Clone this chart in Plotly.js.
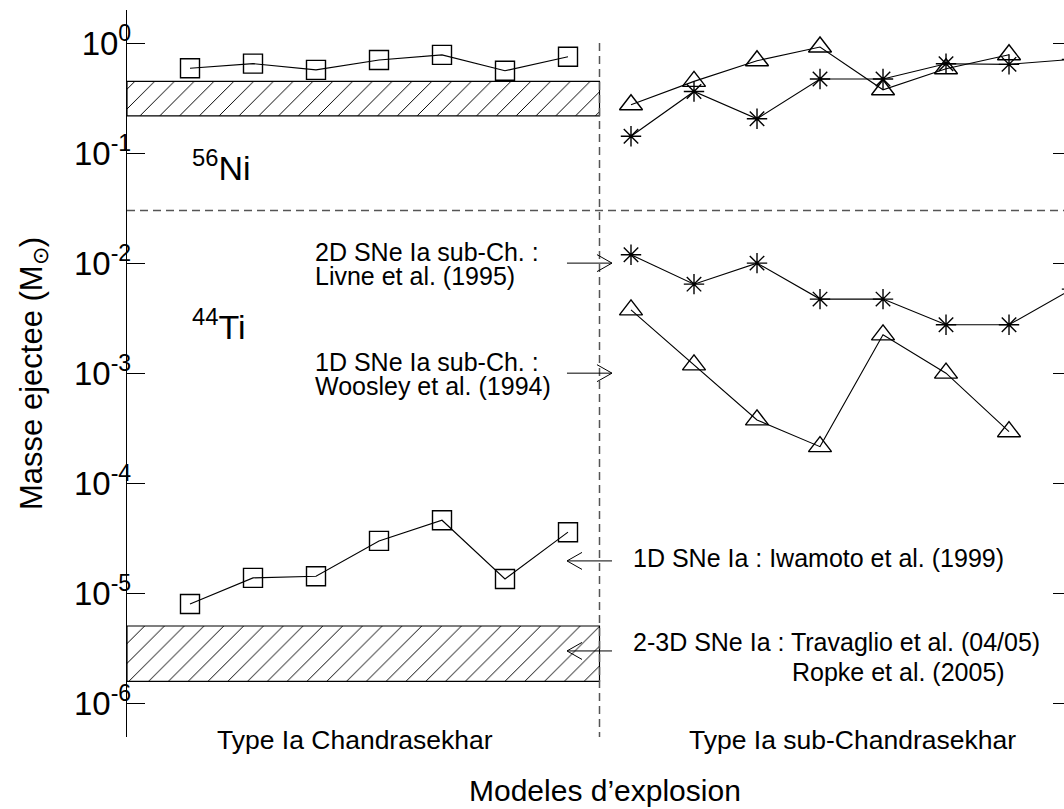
<!DOCTYPE html>
<html>
<head>
<meta charset="utf-8">
<script src="https://cdn.plot.ly/plotly-3.0.1.min.js"></script>
<style>html,body{margin:0;padding:0;overflow:hidden;background:#fff}</style>
</head>
<body>
<div id="chart"></div>
<script>
// ---- data ----
const chandraModels = [0, 1, 2, 3, 4, 5, 6];
const subChModels = [7, 8, 9, 10, 11, 12, 13];
const subChModelsLivne = [7, 8, 9, 10, 11, 12, 13, 14];

// 56Ni ejected mass (Msun)
const ni56Iwamoto = [0.59, 0.65, 0.57, 0.70, 0.78, 0.56, 0.75];
const ni56Woosley = [0.275, 0.448, 0.69, 0.92, 0.376, 0.584, 0.783];
const ni56Livne = [0.142, 0.363, 0.205, 0.471, 0.471, 0.648, 0.64, 0.71];

// 44Ti ejected mass (Msun)
const ti44Iwamoto = [8.0e-6, 1.38e-5, 1.43e-5, 2.99e-5, 4.61e-5, 1.35e-5, 3.59e-5];
const ti44Woosley = [0.00376, 0.00119, 0.000376, 0.000215, 0.00223, 0.00100, 0.000294];
const ti44Livne = [0.0119, 0.00644, 0.0100, 0.00471, 0.00471, 0.00275, 0.00275, 0.0058];

// 2-3D models (Travaglio 04/05, Ropke 2005): ranges
const ni56MultiD = [0.218, 0.448];
const ti44MultiD = [1.58e-6, 5.04e-6];

const separatorMass = 0.03;      // horizontal dashed separator
const groupBoundary = 6.5;       // Chandrasekhar | sub-Chandrasekhar
const tickVals = [1e-6, 1e-5, 1e-4, 1e-3, 1e-2, 1e-1, 1];
const tickText = tickVals.map(v => '10<sup>' + Math.round(Math.log10(v)) + '</sup>');

// ---- drawing ----
const FONT = 'Liberation Sans, Arial, Helvetica, sans-serif';
const xLeft = -1;
const yRange = [-6.306, 0.30];
const yPaper = l => (l - yRange[0]) / (yRange[1] - yRange[0]);

function band(range) {
  return {
    x: [xLeft, groupBoundary, groupBoundary, xLeft, xLeft],
    y: [range[0], range[0], range[1], range[1], range[0]],
    mode: 'lines', fill: 'toself', fillcolor: 'white',
    fillpattern: {shape: '/', fgcolor: 'black', bgcolor: 'white', size: 14, solidity: 0.07},
    line: {color: 'black', width: 1.2}, hoverinfo: 'skip', showlegend: false
  };
}
function series(x, y, symbol, size) {
  return {
    x: x, y: y, mode: 'lines+markers',
    line: {color: 'black', width: 1.1},
    marker: {symbol: symbol, size: size, color: 'black', line: {color: 'black', width: 1.4}},
    showlegend: false
  };
}

const traces = [
  band(ni56MultiD),
  band(ti44MultiD),
  {x: [xLeft, 20], y: [separatorMass, separatorMass], mode: 'lines',
   line: {color: '#555', width: 1.5, dash: '8px,5px'}, showlegend: false, hoverinfo: 'skip'},
  {x: [groupBoundary, groupBoundary], y: [tickVals[tickVals.length - 1], 1e-8], mode: 'lines',
   line: {color: '#555', width: 1.5, dash: '8px,5px'}, showlegend: false, hoverinfo: 'skip'},
  series(chandraModels, ni56Iwamoto, 'square-open', 19),
  series(chandraModels, ti44Iwamoto, 'square-open', 19),
  series(subChModels, ni56Woosley, 'triangle-up-open', 20),
  series(subChModels, ti44Woosley, 'triangle-up-open', 20),
  series(subChModelsLivne, ni56Livne, 'asterisk-open', 17),
  series(subChModelsLivne, ti44Livne, 'asterisk-open', 17)
];

function txt(x, y, text, opts) {
  return Object.assign({x: x, y: y, xref: 'x', yref: 'y', text: text, showarrow: false,
    xanchor: 'left', yanchor: 'middle', font: {family: FONT, size: 25, color: 'black'}}, opts || {});
}
// open-chevron arrow, tip at (xIdx, log10 y); dir = +1 points right, -1 points left
function arrowShape(xIdx, logY, dir) {
  const L = 45, hx = 15, hy = 8.5;
  return {
    type: 'path', xref: 'x', yref: 'paper', xsizemode: 'pixel', ysizemode: 'pixel',
    xanchor: xIdx, yanchor: yPaper(logY),
    path: 'M' + (-dir * L) + ',0 L0,0 M' + (-dir * hx) + ',' + (-hy) + ' L0,0 L' + (-dir * hx) + ',' + hy,
    line: {color: 'black', width: 1}
  };
}

const annotations = [
  txt(0, -1.115, '<sup>56</sup>Ni', {font: {family: FONT, size: 34, color: 'black'}}),
  txt(0, -2.561, '<sup>44</sup>Ti', {font: {family: FONT, size: 34, color: 'black'}}),
  txt(1.952, -1.897, '2D SNe Ia sub-Ch. :'),
  txt(1.952, -2.115, 'Livne et al. (1995)'),
  txt(1.952, -2.897, '1D SNe Ia sub-Ch. :'),
  txt(1.952, -3.115, 'Woosley et al. (1994)'),
  txt(7.0, -4.679, '1D SNe Ia : Iwamoto et al. (1999)'),
  txt(7.0, -5.443, '2-3D SNe Ia : Travaglio et al. (04/05)'),
  txt(9.524, -5.716, 'Ropke et al. (2005)'),
  {x: 0.2415, y: -0.004, xref: 'paper', yref: 'paper', text: 'Type Ia Chandrasekhar', showarrow: false,
   xanchor: 'center', yanchor: 'middle', font: {family: FONT, size: 26.5, color: 'black'}},
  {x: 0.769, y: -0.004, xref: 'paper', yref: 'paper', text: 'Type Ia sub-Chandrasekhar', showarrow: false,
   xanchor: 'center', yanchor: 'middle', font: {family: FONT, size: 26.5, color: 'black'}},
  {x: 0.5064, y: -0.073, xref: 'paper', yref: 'paper', text: 'Modeles d\u2019explosion', showarrow: false,
   xanchor: 'center', yanchor: 'middle', font: {family: FONT, size: 30, color: 'black'}}
];

const shapes = [
  arrowShape(6.698, -2, 1),
  arrowShape(6.698, -3, 1),
  arrowShape(5.984, -4.706, -1),
  arrowShape(5.984, -5.524, -1)
];

const layout = {
  width: 1072, height: 809,
  margin: {l: 127, r: 1, t: 10, b: 72},
  paper_bgcolor: 'white', plot_bgcolor: 'white',
  font: {family: FONT, color: 'black'},
  showlegend: false,
  xaxis: {range: [xLeft, 13.984], visible: false, showgrid: false, zeroline: false},
  yaxis: {
    type: 'log', range: yRange,
    tickvals: tickVals, ticktext: tickText,
    ticks: 'inside', ticklen: 18, tickwidth: 1, tickcolor: 'black',
    showline: true, linecolor: 'black', linewidth: 1.2, mirror: 'ticks',
    showgrid: false, zeroline: false, ticklabelstandoff: -12,
    tickfont: {family: FONT, size: 33, color: 'black'},
    title: {text: 'Masse ejectee (M<sub>\u2299</sub>)', font: {family: FONT, size: 31, color: 'black'}, standoff: 22}
  },
  annotations: annotations,
  shapes: shapes
};

Plotly.newPlot('chart', traces, layout, {staticPlot: true, displayModeBar: false});
</script>
</body>
</html>
